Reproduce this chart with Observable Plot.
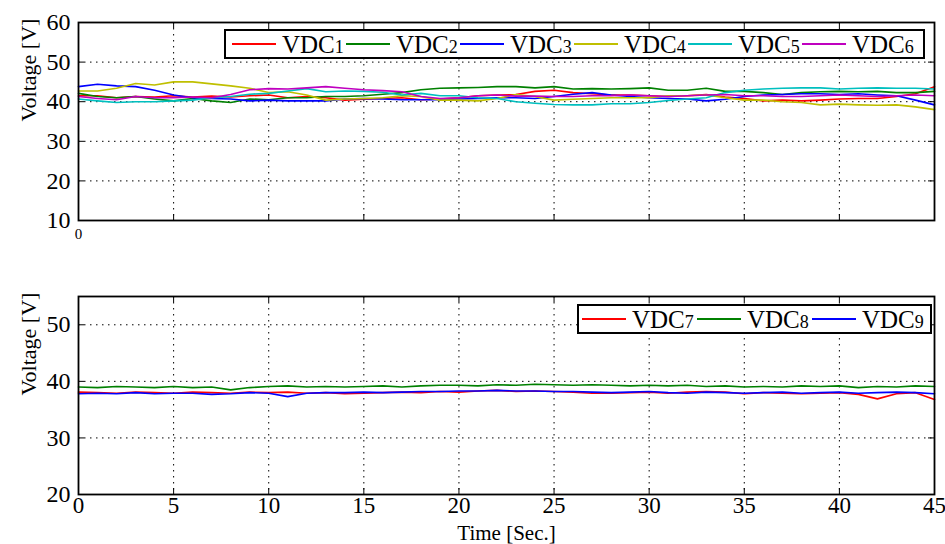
<!DOCTYPE html>
<html><head><meta charset="utf-8">
<script src="https://cdn.jsdelivr.net/npm/d3@7"></script>
<script src="https://cdn.jsdelivr.net/npm/@observablehq/plot@0.6"></script>
<style>
body{margin:0;background:#fff;}
#wrap{position:relative;width:945px;height:544px;overflow:hidden;background:#fff;font-family:"Liberation Serif","Times New Roman",serif;}
#wrap svg, #wrap svg text{font-family:"Liberation Serif","Times New Roman",serif !important;}
#top,#bot{position:absolute;left:0;}
#top{top:0px}#bot{top:270px}
.legend{position:absolute;border:2px solid #000;background:#fff;box-sizing:border-box;}
.entry{position:absolute;top:0;height:100%;}
.entry .ln{position:absolute;left:2px;width:44px;top:50%;border-top:2px solid;margin-top:-1px}
.entry .tx{position:absolute;left:52px;top:50%;transform:translateY(-50%);font-size:25px;line-height:1;white-space:nowrap;color:#000}
.entry .tx span{font-size:18px}
</style></head>
<body>
<div id="wrap"><div id="top"></div><div id="bot"></div></div>
<script>
const time = [0,1,2,3,4,5,6,7,8,9,10,11,12,13,14,15,16,17,18,19,20,21,22,23,24,25,26,27,28,29,30,31,32,33,34,35,36,37,38,39,40,41,42,43,44,45];

const vdc1 = [41.5,41.5,41.0,41.3,41.2,41.5,41.2,41.4,41.2,41.5,41.7,41.0,41.3,41.0,40.4,40.6,40.8,41.0,40.5,40.7,41.0,41.5,41.7,41.8,42.6,42.9,42.3,42.0,41.7,41.7,41.5,41.3,41.5,41.8,41.2,40.8,40.2,40.4,40.2,40.4,40.7,40.8,40.8,41.3,42.0,43.8];
const vdc2 = [42.1,41.3,41.0,41.3,40.7,40.2,40.8,40.2,39.8,40.7,40.5,41.0,41.0,41.3,41.3,41.5,41.9,42.3,43.0,43.4,43.5,43.6,43.8,43.8,43.5,43.8,43.2,43.3,43.2,43.3,43.5,42.9,42.9,43.4,42.6,42.6,42.3,41.8,42.3,42.5,42.6,42.5,42.6,42.3,42.3,42.6];
const vdc3 = [43.8,44.4,44.0,43.8,42.9,41.7,41.0,40.8,40.7,40.2,40.4,40.2,40.2,40.2,40.7,40.8,40.7,40.5,40.5,40.5,40.7,40.8,41.0,41.0,40.8,41.3,41.9,42.3,41.7,41.3,41.0,40.8,40.7,40.2,40.6,41.3,41.7,41.8,42.0,42.0,41.8,42.0,41.7,41.5,40.4,39.2];
const vdc4 = [42.7,42.7,43.4,44.6,44.2,45.0,45.0,44.5,44.0,43.4,42.3,42.5,41.7,40.4,40.7,40.8,41.0,41.5,41.3,40.4,40.4,40.2,40.8,41.8,41.3,40.4,40.6,40.8,41.0,41.0,41.0,41.5,41.5,41.7,41.0,40.4,40.4,40.0,39.8,39.2,39.4,39.2,39.1,39.2,38.7,38.0];
const vdc5 = [40.7,40.2,39.8,40.0,40.0,40.2,40.4,41.0,41.3,41.9,42.1,42.7,43.3,42.5,42.7,42.6,42.4,41.7,42.1,41.5,41.5,41.0,40.8,40.0,39.6,39.3,39.2,39.2,39.5,39.5,39.8,40.3,40.7,41.0,42.3,42.9,43.2,43.4,43.5,43.5,43.2,43.4,43.5,43.4,43.4,43.2];
const vdc6 = [41.3,40.8,40.5,41.3,41.0,41.0,41.2,41.0,41.8,43.0,43.3,43.2,43.5,43.8,43.4,43.0,42.8,42.5,41.3,40.8,41.0,41.5,41.7,41.4,41.4,41.3,41.3,41.5,41.5,41.7,41.5,41.3,41.5,41.7,41.8,41.5,41.5,41.3,41.3,41.5,41.7,41.5,41.3,41.5,41.7,41.5];

const vdc7 = [38.1,38.0,37.9,38.1,38.0,37.9,38.1,38.0,37.9,38.1,38.0,38.1,37.9,38.0,37.8,37.9,38.0,38.1,38.0,38.2,38.1,38.3,38.4,38.2,38.3,38.2,38.1,37.9,37.9,38.0,38.1,37.9,38.1,38.2,38.1,37.8,38.0,37.9,37.8,37.9,38.0,37.7,36.9,37.8,38.0,36.8];
const vdc8 = [39.0,38.9,39.1,39.0,38.9,39.1,38.9,39.0,38.5,38.9,39.1,39.2,39.0,39.1,39.0,39.1,39.2,39.0,39.2,39.3,39.3,39.2,39.4,39.3,39.5,39.4,39.3,39.4,39.3,39.2,39.3,39.2,39.3,39.1,39.2,39.0,39.1,39.0,39.2,39.1,39.2,38.9,39.1,39.0,39.2,39.1];
const vdc9 = [37.8,37.9,37.8,38.0,37.8,37.9,37.9,37.7,37.8,38.0,37.9,37.3,37.9,38.0,38.0,38.1,38.0,38.1,38.2,38.2,38.3,38.3,38.4,38.3,38.3,38.2,38.2,38.1,38.0,38.1,38.2,38.0,37.9,38.1,38.0,37.9,38.0,38.1,37.9,38.0,38.1,37.9,38.0,38.1,38.0,37.8];

const topNames = ["VDC1","VDC2","VDC3","VDC4","VDC5","VDC6"];
const topColors = ["#ff0000","#008000","#0000ff","#bfbf00","#00bfbf","#bf00bf"];
const botNames = ["VDC7","VDC8","VDC9"];
const botColors = ["#ff0000","#008000","#0000ff"];

const xTicks = [0,5,10,15,20,25,30,35,40,45];
const topYTicks = [10,20,30,40,50,60];
const botYTicks = [20,30,40,50];
const topXTickLabels = ["0"];
const yLabel = "Voltage [V]";
const xLabel = "Time [Sec.]";

function longData(names, arrays) {
  const out = [];
  names.forEach((n, i) => arrays[i].forEach((v, j) => out.push({name: n, t: time[j], v})));
  return out;
}
const topData = longData(topNames, [vdc1, vdc2, vdc3, vdc4, vdc5, vdc6]);
const botData = longData(botNames, [vdc7, vdc8, vdc9]);

const W = 945, ML = 78, MR = 11;
const FW = W - ML - MR;
const FONT = '"Liberation Serif", "Times New Roman", serif';
const dash = "1.5,4.5";

function panel({data, names, colors, height, mt, mb, yDomain, yTicks, bottomLabels}) {
  const FH = height - mt - mb;
  const marks = [
    Plot.gridX(xTicks.slice(1, -1), {stroke: "#000", strokeOpacity: 1, strokeWidth: 1, strokeDasharray: dash}),
    Plot.gridY(yTicks.filter(d => d > yDomain[0] && d < yDomain[1]), {stroke: "#000", strokeOpacity: 1, strokeWidth: 1, strokeDasharray: dash}),
    Plot.line(data, {x: "t", y: "v", z: "name", stroke: "name", strokeWidth: 1.6}),
    Plot.ruleX(xTicks, {x: d => d, insetTop: FH - 6, stroke: "#000", strokeWidth: 1}),
    Plot.ruleX(xTicks, {x: d => d, insetBottom: FH - 6, stroke: "#000", strokeWidth: 1}),
    Plot.ruleY(yTicks, {y: d => d, insetRight: FW - 6, stroke: "#000", strokeWidth: 1}),
    Plot.ruleY(yTicks, {y: d => d, insetLeft: FW - 6, stroke: "#000", strokeWidth: 1}),
    Plot.frame({stroke: "#000", strokeWidth: 1.8}),
    Plot.axisY(yTicks, {anchor: "left", tickSize: 0, tickPadding: 8, fontSize: 24, label: null, tickFormat: d => String(d)}),
    Plot.text([yLabel], {frameAnchor: "left", rotate: -90, dx: -50, fontSize: 22, fill: "#000", text: d => d})
  ];
  if (bottomLabels) {
    marks.push(Plot.axisX(xTicks, {anchor: "bottom", tickSize: 0, tickPadding: 2, fontSize: 23, label: null, tickFormat: d => String(d)}));
    marks.push(Plot.text([xLabel], {frameAnchor: "bottom", lineAnchor: "middle", dy: 39, fontSize: 21, fill: "#000", text: d => d}));
  } else {
    marks.push(Plot.text([0], {x: d => d, frameAnchor: "bottom", lineAnchor: "middle", dy: 14, fontSize: 15, fill: "#000", text: (d, i) => topXTickLabels[i]}));
  }
  return Plot.plot({
    width: W, height, marginTop: mt, marginBottom: mb, marginLeft: ML, marginRight: MR,
    style: {fontFamily: FONT, background: "transparent", color: "#000", overflow: "visible"},
    x: {domain: [0, 45], axis: null},
    y: {domain: yDomain, axis: null},
    color: {domain: names, range: colors},
    marks
  });
}

document.getElementById("top").appendChild(panel({data: topData, names: topNames, colors: topColors, height: 270, mt: 22, mb: 50, yDomain: [10, 60], yTicks: topYTicks, bottomLabels: false}));
document.getElementById("bot").appendChild(panel({data: botData, names: botNames, colors: botColors, height: 274, mt: 26, mb: 50, yDomain: [20, 55], yTicks: botYTicks, bottomLabels: true}));

function legend(names, colors, left, top, width, height, step, pad) {
  const box = document.createElement("div");
  box.className = "legend";
  Object.assign(box.style, {left: left + "px", top: top + "px", width: width + "px", height: height + "px"});
  names.forEach((n, i) => {
    const e = document.createElement("div");
    e.className = "entry";
    e.style.left = (pad + i * step) + "px";
    const ln = document.createElement("div");
    ln.className = "ln";
    ln.style.borderTopColor = colors[i];
    const tx = document.createElement("div");
    tx.className = "tx";
    tx.innerHTML = n.slice(0, 3) + "<span>" + n.slice(3) + "</span>";
    e.appendChild(ln); e.appendChild(tx);
    box.appendChild(e);
  });
  document.getElementById("wrap").appendChild(box);
}
legend(topNames, topColors, 224, 29, 701, 30, 114, 4);
legend(botNames, botColors, 577, 304, 355, 30, 115, 1);
</script>
</body></html>
